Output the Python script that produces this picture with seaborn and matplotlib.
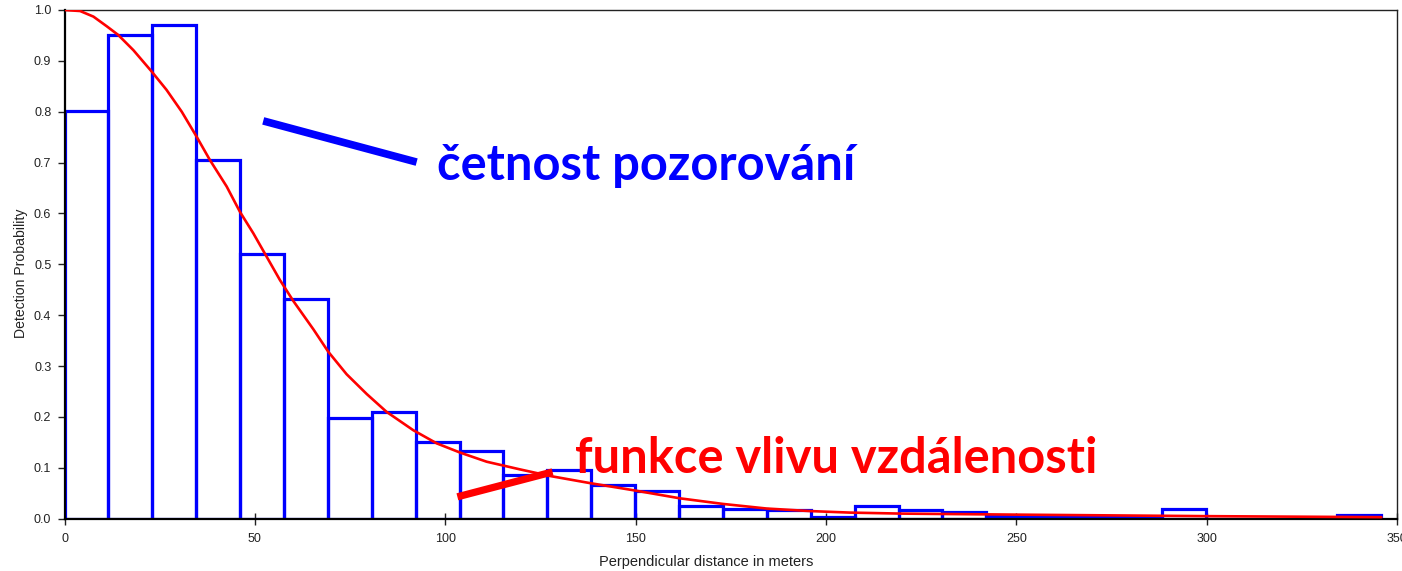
import numpy as np
import pandas as pd
import matplotlib
matplotlib.use('Agg')
import matplotlib.pyplot as plt
import seaborn as sns

bin_width = 11.53
bar_heights = [0.802, 0.951, 0.970, 0.705, 0.520, 0.431, 0.197, 0.209, 0.150, 0.133,
               0.085, 0.096, 0.066, 0.055, 0.024, 0.019, 0.018, 0.004, 0.025, 0.018,
               0.013, 0.006, 0.005, 0.003, 0.003, 0.019, 0.0, 0.0, 0.0, 0.007]

# Fitted detection function
curve_x = [0, 4.1, 7.6, 11.1, 14.1, 18.1, 22.9, 26.8, 30.8, 34.7, 38.2, 42.6, 46.1,
           49.6, 53.1, 56.6, 60.1, 65.4, 69.3, 74.1, 79.4, 84.6, 91.6, 97.8, 103.9,
           110.9, 119.6, 127.5, 138, 149.4, 161.7, 173, 184.4, 195.8, 206.3, 220,
           250, 300, 345.9]
curve_y = [1.000, 0.998, 0.987, 0.968, 0.951, 0.921, 0.879, 0.843, 0.800, 0.751, 0.705,
           0.653, 0.603, 0.561, 0.515, 0.469, 0.428, 0.372, 0.328, 0.284, 0.245, 0.210,
           0.174, 0.148, 0.130, 0.112, 0.097, 0.084, 0.070, 0.056, 0.040, 0.029, 0.020,
           0.015, 0.012, 0.010, 0.008, 0.005, 0.003]

# Annotation pointers
blue_pointer_x = [52.2, 92.5]
blue_pointer_y = [0.782, 0.701]
red_pointer_x = [103.2, 128.2]
red_pointer_y = [0.043, 0.092]

x_ticks = [0, 50, 100, 150, 200, 250, 300, 350]
y_ticks = np.round(np.arange(0, 1.01, 0.1), 1)

n_bins = len(bar_heights)
edges = np.arange(n_bins + 1) * bin_width
hist_df = pd.DataFrame({'distance': edges[:-1] + bin_width / 2,
                        'prob': bar_heights})

sns.set_style("white")
plt.rcParams['font.family'] = ['Liberation Sans', 'DejaVu Sans']

fig = plt.figure(figsize=(14.02, 5.71), dpi=100)
ax = fig.add_axes([64.5 / 1402, 1 - 518.7 / 571, (1397 - 64.5) / 1402, (518.7 - 10) / 571])

sns.histplot(data=hist_df, x='distance', weights='prob', bins=list(edges), fill=False,
             element='bars', color='#0000FF', linewidth=2.3, ax=ax, zorder=2)
for p in ax.patches:
    p.set_edgecolor('#0000FF')

sns.lineplot(x=curve_x, y=curve_y, color='#FF0000', linewidth=1.9, ax=ax, zorder=3)

ax.plot(blue_pointer_x, blue_pointer_y, color='#0000FF', linewidth=5.5,
        solid_capstyle='butt', zorder=4)
ax.plot(red_pointer_x, red_pointer_y, color='#FF0000', linewidth=5.2,
        solid_capstyle='butt', zorder=4)

ax.text(97.9, 0.666, 'četnost pozorování', color='#0000FF', fontsize=35.2,
        fontweight='bold', family=['Lato', 'DejaVu Sans'], ha='left', va='baseline')
ax.text(134.1, 0.089, 'funkce vlivu vzdálenosti', color='#FF0000', fontsize=35.2,
        fontweight='bold', family=['Lato', 'DejaVu Sans'], ha='left', va='baseline')

ax.set_xlim(0, 350)
ax.set_ylim(0, 1.0)
ax.set_xticks(x_ticks)
ax.set_yticks(y_ticks)
ax.set_yticklabels([f'{v:.1f}' for v in y_ticks])
ax.tick_params(axis='y', direction='out', length=5, width=1, pad=4.5,
               labelsize=9, colors='#222222', left=True)
ax.tick_params(axis='x', direction='inout', length=8, width=1, pad=6.5,
               labelsize=9, colors='#222222', bottom=True)

ax.set_xlabel('Perpendicular distance in meters', fontsize=10.5, color='#222222')
ax.set_ylabel('Detection Probability', fontsize=10.1, color='#222222')
ax.xaxis.set_label_coords((706 - 64.5) / 1332.5, -0.072)
ax.yaxis.set_label_coords((28 - 64.5) / 1332.5, 0.483)

for side in ['left', 'bottom']:
    ax.spines[side].set_color('black')
    ax.spines[side].set_linewidth(1.6)
for side in ['top', 'right']:
    ax.spines[side].set_color('#222222')
    ax.spines[side].set_linewidth(1.0)
ax.grid(False)

fig.savefig('out.png', dpi=100)
plt.close(fig)
